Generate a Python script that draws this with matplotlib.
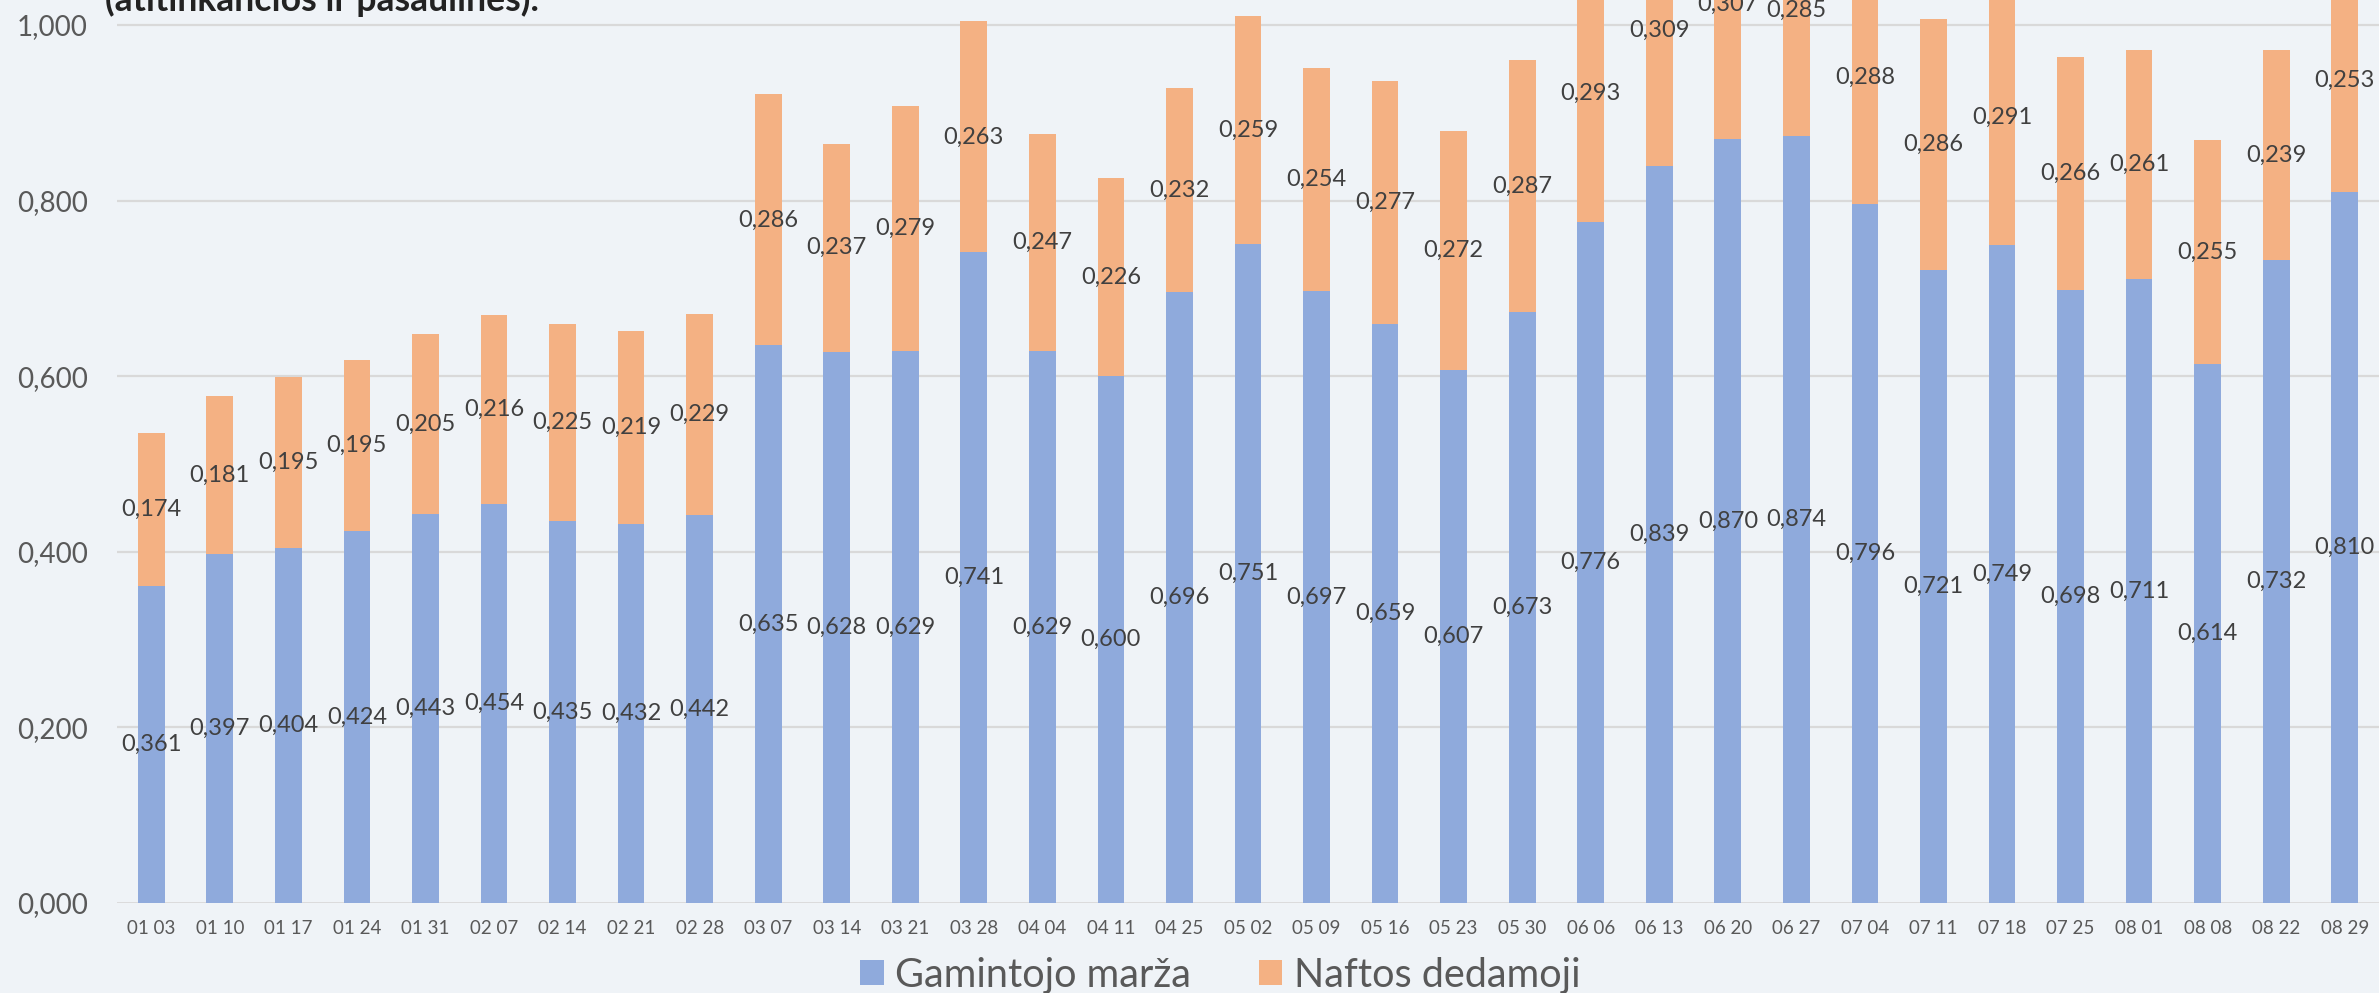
import matplotlib
matplotlib.use("Agg")
import matplotlib.pyplot as plt
import numpy as np

categories = ["01 03", "01 10", "01 17", "01 24", "01 31", "02 07", "02 14", "02 21", "02 28",
              "03 07", "03 14", "03 21", "03 28", "04 04", "04 11", "04 25", "05 02", "05 09",
              "05 16", "05 23", "05 30", "06 06", "06 13", "06 20", "06 27", "07 04", "07 11",
              "07 18", "07 25", "08 01", "08 08", "08 22", "08 29"]
gamintojo_marza = [0.361, 0.397, 0.404, 0.424, 0.443, 0.454, 0.435, 0.432, 0.442,
                   0.635, 0.628, 0.629, 0.741, 0.629, 0.600, 0.696, 0.751, 0.697,
                   0.659, 0.607, 0.673, 0.776, 0.839, 0.870, 0.874, 0.796, 0.721,
                   0.749, 0.698, 0.711, 0.614, 0.732, 0.810]
naftos_dedamoji = [0.174, 0.181, 0.195, 0.195, 0.205, 0.216, 0.225, 0.219, 0.229,
                   0.286, 0.237, 0.279, 0.263, 0.247, 0.226, 0.232, 0.259, 0.254,
                   0.277, 0.272, 0.287, 0.293, 0.309, 0.307, 0.285, 0.288, 0.286,
                   0.291, 0.266, 0.261, 0.255, 0.239, 0.253]
series_names = ["Gamintojo marža", "Naftos dedamoji"]
yticks = [0.0, 0.2, 0.4, 0.6, 0.8, 1.0]
title_text = "(atitinkančios ir pasaulinės)."

plt.rcParams['font.family'] = ['Lato', 'DejaVu Sans']

W, H = 2379, 993
DPI = 100
bg = "#EFF3F7"
blue = "#8FAADC"
orange = "#F4B183"

fig = plt.figure(figsize=(W / DPI, H / DPI), dpi=DPI, facecolor=bg)

left_px, zero_px, unit_px = 117, 903, 878
ymax = 1.2
ax = fig.add_axes([left_px / W, (H - zero_px) / H, (W - left_px) / W, ymax * unit_px / H])
ax.set_facecolor(bg)

x = np.arange(len(categories))
bw = 0.39
b1 = ax.bar(x, gamintojo_marza, width=bw, color=blue, label=series_names[0], zorder=3)
b2 = ax.bar(x, naftos_dedamoji, width=bw, bottom=gamintojo_marza, color=orange,
            label=series_names[1], zorder=3)

def fmt(v):
    return f"{v:.3f}".replace(".", ",")

for xi, g, n in zip(x, gamintojo_marza, naftos_dedamoji):
    ax.text(xi, g / 2, fmt(g), ha="center", va="center", fontsize=17, color="#404040", zorder=4)
    ax.text(xi, g + n / 2, fmt(n), ha="center", va="center", fontsize=17, color="#404040", zorder=4)

ax.set_xlim(-0.5, len(categories) - 0.5)
ax.set_ylim(0, ymax)
ax.set_yticks(yticks)
ax.set_yticklabels([fmt(v) for v in yticks], fontsize=20, color="#595959")
ax.set_xticks(x)
ax.set_xticklabels(categories, fontsize=13.5, color="#595959")
ax.tick_params(axis="y", length=0, pad=21)
ax.tick_params(axis="x", length=0, pad=12)
for s in ax.spines.values():
    s.set_visible(False)
for yv in yticks:
    ax.axhline(yv, color="#D9D9D9", linewidth=2 if yv == 0 else 1.6, zorder=1)

fig.text(105 / W, 1 - 11 / H, title_text, ha="left", va="baseline", fontsize=25.6,
         fontweight="bold", color="#222222")

leg = fig.legend(handles=[b1, b2], labels=series_names, loc="center",
                 bbox_to_anchor=(1220 / W, 18 / H), ncol=2, frameon=False,
                 fontsize=28.5, handlelength=0.6, handleheight=0.6, handletextpad=0.28,
                 columnspacing=1.72, labelcolor="#595959", borderaxespad=0, borderpad=0)

fig.savefig("out.png", dpi=DPI, facecolor=bg)
